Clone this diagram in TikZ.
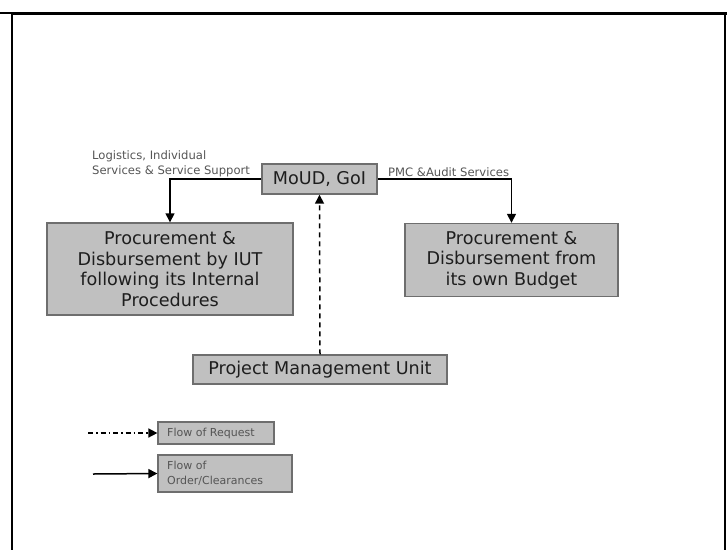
\documentclass[tikz,border=0pt]{standalone}
\usepackage{fontspec}
\setmainfont{DejaVu Sans}
\usetikzlibrary{arrows.meta}
\definecolor{boxgray}{HTML}{C0C0C0}
\definecolor{boxedge}{HTML}{6E6E6E}
\definecolor{labelgray}{HTML}{555555}
\definecolor{textdark}{HTML}{1E1E1E}
\newcommand{\bigText}[0]{\fontsize{17.6}{20.6}\selectfont}
\newcommand{\smallText}[0]{\fontsize{11.6}{15}\selectfont}
\newcommand{\keyText}[0]{\fontsize{11}{15}\selectfont}

\begin{document}
\begin{tikzpicture}[x=1pt, y=-1pt]
  \tikzset{
    unit/.style={draw=boxedge, line width=1.4pt, fill=boxgray, text=textdark,
      align=center, inner sep=0pt, font=\bigText},
    keybox/.style={draw=boxedge, line width=1.2pt, fill=boxgray, inner sep=0pt},
    keytext/.style={text=labelgray, align=left, inner sep=0pt, anchor=west, font=\keyText},
    note/.style={text=labelgray, align=left, inner sep=0pt, anchor=west, font=\smallText},
    order/.style={draw=black, line width=1.5pt, -{Triangle[length=9pt, width=9pt]}},
    request/.style={order, dash pattern=on 5pt off 4pt},
    requestkey/.style={order, dash pattern=on 5pt off 3pt on 1.5pt off 3pt}
  }
  \useasboundingbox (0,0) rectangle (728,550);
  % frame
  \draw[line width=1.6pt] (0,13) -- (12,13);
  \draw[line width=3pt] (11,13.5) -- (727,13.5);
  \draw[line width=2pt] (12,13.5) -- (12,550);
  \draw[line width=2pt] (725,13.5) -- (725,550);

  % units
  \node[unit, minimum width=115pt, minimum height=30pt] (moud) at (319.5,179) {MoUD, GoI};
  \node[unit, minimum width=246pt, minimum height=92pt] (iut) at (170,269)
    {Procurement \&\\Disbursement by IUT\\following its Internal\\Procedures};
  \node[unit, minimum width=213pt, minimum height=73pt] (budget) at (511.5,260)
    {Procurement \&\\Disbursement from\\its own Budget};
  \node[unit, minimum width=254pt, minimum height=29pt] (pmu) at (320,369.5)
    {Project Management Unit};

  % connectors
  \draw[order] (moud.west) -| (iut.north);
  \draw[order] (moud.east) -| (budget.north);
  \draw[request] (pmu.north) -- (moud.south);
  \node[note] (logistics) at (92,163.5) {Logistics, Individual\\Services \& Service Support};
  \node[note] (pmc) at (388,172.5) {PMC \&Audit Services};

  % key
  \node[keybox, minimum width=116pt, minimum height=22pt] (keyrequest) at (216,433) {};
  \node[keytext] (keyrequesttext) at (167,433) {Flow of Request};
  \node[keybox, minimum width=134pt, minimum height=37pt] (keyorder) at (225,473.5) {};
  \node[keytext] (keyordertext) at (167,473.5) {Flow of\\Order/Clearances};
  \coordinate (requestfrom) at (88,433);
  \coordinate (orderfrom) at (93,474);
  \draw[requestkey] (requestfrom) -- (keyrequest.west);
  \draw[order] (orderfrom) -- (keyorder.west);
\end{tikzpicture}
\end{document}
